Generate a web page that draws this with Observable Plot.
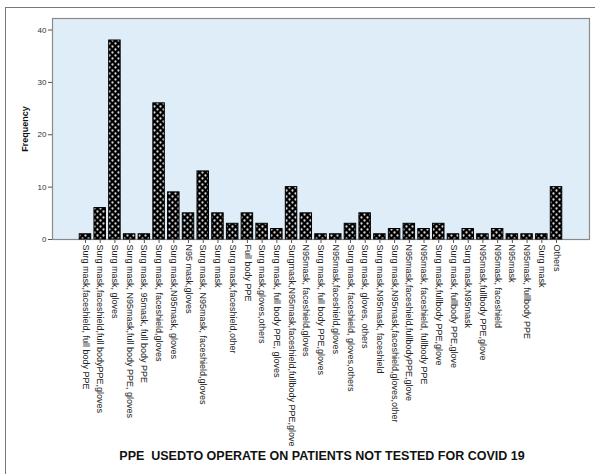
<!DOCTYPE html>
<html>
<head>
<meta charset="utf-8">
<script src="https://cdn.jsdelivr.net/npm/d3@7"></script>
<script src="https://cdn.jsdelivr.net/npm/@observablehq/plot@0.6"></script>
<style>
  html, body { margin: 0; padding: 0; background: #fff; }
  body { width: 595px; height: 474px; position: relative; overflow: hidden; font-family: "Liberation Sans", Arial, sans-serif; }
  #border { position: absolute; left: 5px; top: 7px; width: 620px; height: 500px; border-left: 1.5px solid #777; border-top: 1.5px solid #777; }
  #chart { position: absolute; left: 0; top: 0; }
  #title { position: absolute; left: 0; width: 644px; top: 449px; text-align: center; font-weight: bold; font-size: 12.5px; color: #111; white-space: pre; }
  g[aria-label="y-axis label"] text { font-weight: bold; font-size: 9px; fill: #111; }
  g[aria-label="y-axis tick label"] text { font-size: 8px; fill: #333; }
</style>
</head>
<body>
<div id="border"></div>
<div id="chart"></div>
<div id="title">PPE  USEDTO OPERATE ON PATIENTS NOT TESTED FOR COVID 19</div>
<script>
const categories = [
  "Surg mask,faceshield, full body PPE",
  "Surg mask,faceshield,full bodyPPE,gloves",
  "Surg mask, gloves",
  "Surg mask, N95mask,full body PPE, gloves",
  "Surg mask, 95mask, full body PPE",
  "Surg mask, faceshield,gloves",
  "Surg mask,N95mask, gloves",
  "N95 mask,gloves",
  "Surg mask, N95mask, faceshield,gloves",
  "Surg mask",
  "Surg mask,faceshield,other",
  "Full body PPE",
  "Surg mask,gloves,others",
  "Surg mask, full body PPE, gloves",
  "Surgmask,N95mask,faceshield,fullbody PPE,glove",
  "N95mask, faceshield,gloves",
  "Surg mask, full body PPE,gloves",
  "N95mask,faceshield,gloves",
  "Surg mask, faceshield, gloves,others",
  "Surg mask, gloves, others",
  "Surg mask,N95mask, faceshield",
  "Surg mask,N95mask,faceshield,gloves,other",
  "N95mask,faceshield,fullbodyPPE,glove",
  "N95mask, faceshield, fullbody PPE",
  "Surg mask,fullbody PPE,glove",
  "Surg mask, fullbody PPE,glove",
  "Surg mask,N95mask",
  "N95mask,fullbody PPE,glove",
  "N95mask, faceshield",
  "N95mask",
  "N95mask, fullbody PPE",
  "Surg mask",
  "Others"
];
const frequencies = [1, 6, 38, 1, 1, 26, 9, 5, 13, 5, 3, 5, 3, 2, 10, 5, 1, 1, 3, 5, 1, 2, 3, 2, 3, 1, 2, 1, 2, 1, 1, 1, 10];
const yTicks = [0, 10, 20, 30, 40];

const data = categories.map((c, i) => ({i, category: c, frequency: frequencies[i]}));

const svg = Plot.plot({
  width: 595,
  height: 474,
  marginLeft: 52,
  marginRight: 6,
  marginTop: 18,
  marginBottom: 235,
  style: {fontFamily: "'Liberation Sans', Arial, sans-serif", background: "transparent"},
  x: {type: "band", domain: d3.range(categories.length), paddingInner: 0.22, paddingOuter: 1.85, round: false},
  y: {domain: [0, 42.2]},
  marks: [
    Plot.frame({fill: "#deedf8", stroke: "#8a8a8a", strokeWidth: 1.2}),
    Plot.barY(data, {x: "i", y: "frequency", fill: "url(#spssPattern)", stroke: "#000", strokeWidth: 1}),
    Plot.axisY({ticks: yTicks, tickSize: 4, tickPadding: 2, stroke: "#555", label: "Frequency", labelAnchor: "center", labelArrow: "none", labelOffset: 31}),
    Plot.axisX({tickFormat: i => categories[i], tickRotate: 90, tickSize: 4, tickPadding: 1, fontSize: 9, fill: "#222", stroke: "#555", label: null, textAnchor: "start"})
  ]
});

const defs = document.createElementNS("http://www.w3.org/2000/svg", "defs");
defs.innerHTML = `
  <pattern id="spssPattern" patternUnits="userSpaceOnUse" width="6" height="6">
    <rect x="0" y="0" width="6" height="6" fill="#000"></rect>
    <circle cx="1.5" cy="1.5" r="1.15" fill="#d4d4d4"></circle>
    <circle cx="4.5" cy="4.5" r="1.15" fill="#d4d4d4"></circle>
  </pattern>`;
svg.insertBefore(defs, svg.firstChild);
document.getElementById("chart").appendChild(svg);
</script>
</body>
</html>
